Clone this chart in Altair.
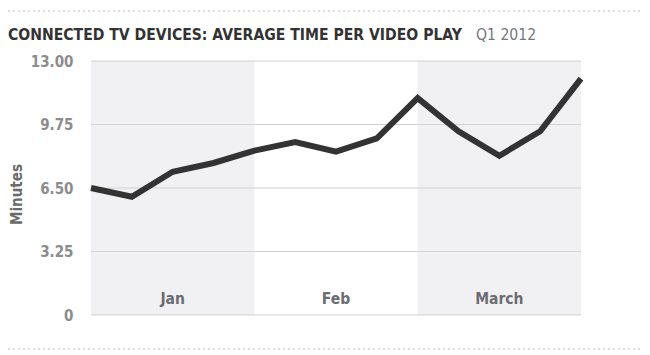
import altair as alt
import pandas as pd

# Data
weeks = list(range(13))
minutes = [6.5, 6.05, 7.33, 7.78, 8.41, 8.85, 8.36, 9.04, 11.1, 9.4, 8.15, 9.4, 12.1]

month_names = ["Jan", "Feb", "March"]
month_start = [0, 4, 8]
month_end = [4, 8, 12]
month_mid = [2, 6, 10]
shaded_months = ["Jan", "March"]

y_ticks = [0, 3.25, 6.5, 9.75, 13]

title_main = "CONNECTED TV DEVICES: AVERAGE TIME PER VIDEO PLAY"
title_period = "Q1 2012"

W, H = 490, 254
FONT = "'DejaVu Sans Condensed', 'Liberation Sans Narrow', Roboto, sans-serif"

line_df = pd.DataFrame({"week": weeks, "minutes": minutes})
bands_df = pd.DataFrame({"month": month_names, "start": month_start, "end": month_end})
bands_df = bands_df[bands_df["month"].isin(shaded_months)]
labels_df = pd.DataFrame({"month": month_names, "mid": month_mid})

xscale = alt.Scale(domain=[0, 12], nice=False, zero=False)
yscale = alt.Scale(domain=[0, 13], nice=False)

bands = alt.Chart(bands_df).mark_rect(color="#f1f1f3").encode(
    x=alt.X("start:Q", scale=xscale, axis=None),
    x2="end:Q",
    y=alt.value(0),
    y2=alt.value(H),
)

grid = alt.Chart(pd.DataFrame({"v": y_ticks})).mark_rule(color="#d2d2d2", strokeWidth=1.2).encode(
    y=alt.Y("v:Q", scale=yscale,
            axis=alt.Axis(values=y_ticks, labelExpr="datum.value == 0 ? '0' : format(datum.value, '.2f')",
                          domain=False, ticks=False, grid=False,
                          labelFont=FONT, labelFontSize=15, labelFontWeight="bold", labelColor="#8c8c8c",
                          labelPadding=18,
                          title="Minutes", titleFont=FONT, titleFontSize=15, titleFontWeight="bold",
                          titleColor="#6a6a6a", titleX=-67, titleY=H / 2 + 6)),
    x=alt.value(0),
    x2=alt.value(W),
)

line = alt.Chart(line_df).mark_line(color="#333333", strokeWidth=6, strokeJoin="miter", strokeCap="butt").encode(
    x=alt.X("week:Q", scale=xscale, axis=None),
    y=alt.Y("minutes:Q", scale=yscale),
)

labels = alt.Chart(labels_df).mark_text(font=FONT, fontSize=15.5, fontWeight="bold", color="#6b6b72",
                                        baseline="alphabetic", dy=-11).encode(
    x=alt.X("mid:Q", scale=xscale, axis=None),
    y=alt.value(H),
    text="month:N",
)

title1 = alt.Chart(pd.DataFrame({"t": [title_main]})).mark_text(
    font=FONT, fontSize=15.6, fontWeight="bold", color="#333333", align="left", baseline="alphabetic"
).encode(x=alt.value(-83), y=alt.value(-21), text="t:N")

title2 = alt.Chart(pd.DataFrame({"t": [title_period]})).mark_text(
    font=FONT, fontSize=15.6, color="#77777c", align="left", baseline="alphabetic"
).encode(x=alt.value(385), y=alt.value(-21), text="t:N")

dots_top = alt.Chart(pd.DataFrame({"k": [0]})).mark_rule(color="#bdbdbd", strokeDash=[2, 3], strokeWidth=1).encode(
    x=alt.value(-83), x2=alt.value(W + 60), y=alt.value(-50)
)
dots_bot = alt.Chart(pd.DataFrame({"k": [0]})).mark_rule(color="#bdbdbd", strokeDash=[2, 3], strokeWidth=1).encode(
    x=alt.value(-83), x2=alt.value(W + 60), y=alt.value(H + 34)
)

chart = alt.layer(bands, grid, line, labels, title1, title2, dots_top, dots_bot).properties(
    width=W, height=H,
    autosize=alt.AutoSizeParams(type="none"),
    padding={"left": 83, "top": 53, "right": 60, "bottom": 40},
    background="white",
).configure_view(stroke=None, clip=False)

chart.save("out.html", embed_options={"renderer": "svg", "actions": False})
